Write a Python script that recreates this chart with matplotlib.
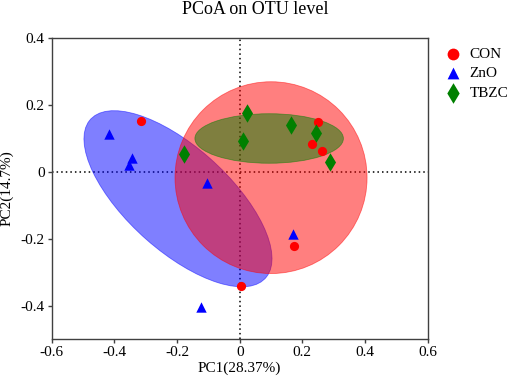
import matplotlib
matplotlib.use('Agg')
from matplotlib import pyplot as plt
from matplotlib.patches import Ellipse

plt.rcParams['font.family'] = 'Liberation Serif'

# PCoA scores
con_x = [-0.314, 0.249, 0.230, 0.264, 0.173, 0.003]
con_y = [0.152, 0.149, 0.083, 0.062, -0.221, -0.341]
zno_x = [-0.416, -0.345, -0.353, -0.105, 0.171, -0.124]
zno_y = [0.112, 0.040, 0.020, -0.033, -0.187, -0.405]
tbzc_x = [0.023, 0.163, 0.244, 0.012, -0.177, 0.288]
tbzc_y = [0.176, 0.138, 0.115, 0.090, 0.052, 0.030]

# group ellipses: centre x, centre y, width, height, angle
ell_con = [0.100, -0.018, 0.613, 0.573, 0.0]
ell_zno = [-0.197, -0.081, 0.733, 0.316, -39.5]
ell_tbzc = [0.094, 0.099, 0.474, 0.148, 0.0]

groups = ['CON', 'ZnO', 'TBZC']
xticks = [-0.6, -0.4, -0.2, 0, 0.2, 0.4, 0.6]
yticks = [-0.4, -0.2, 0, 0.2, 0.4]


def tick_fmt(v):
    return '0' if v == 0 else '{:g}'.format(v)


fig = plt.figure(figsize=(5.1, 3.81), dpi=100)
ax = fig.add_axes([0.1014, 0.1102, 0.7372, 0.7908])

ax.axhline(0, color='black', ls=(0, (1, 2)), lw=1.1, zorder=1)
ax.axvline(0, color='black', ls=(0, (1, 2)), lw=1.1, zorder=1)

for e, col in [(ell_zno, '#0000FF'), (ell_con, '#FF0000'), (ell_tbzc, '#008000')]:
    ax.add_patch(Ellipse((e[0], e[1]), e[2], e[3], angle=e[4],
                         facecolor=col, alpha=0.5, edgecolor=col,
                         lw=0.6, zorder=2))

ax.scatter(con_x, con_y, s=44, marker='o', color='#FF0000',
           linewidths=0, zorder=4, label=groups[0])
ax.scatter(zno_x, zno_y, s=56, marker='^', color='#0000FF',
           linewidths=0, zorder=4, label=groups[1])
ax.scatter(tbzc_x, tbzc_y, s=88, marker='d', color='#008000',
           linewidths=0, zorder=4, label=groups[2])

ax.set_xlim(-0.6, 0.6)
ax.set_ylim(-0.5, 0.4)
ax.set_xticks(xticks)
ax.set_xticklabels([tick_fmt(v) for v in xticks])
ax.set_yticks(yticks)
ax.set_yticklabels([tick_fmt(v) for v in yticks])
ax.tick_params(direction='out', length=3, width=1, color='#404040',
               labelsize=11, pad=2)
for sp in ax.spines.values():
    sp.set_color('#404040')
    sp.set_linewidth(1.0)

ax.set_xlabel('PC1(28.37%)', fontsize=11, labelpad=2)
ax.set_ylabel('PC2(14.7%)', fontsize=11, labelpad=5)
fig.text(0.5, 0.974, 'PCoA on OTU level', ha='center', va='center',
         fontsize=13)

leg = ax.legend(loc='upper left', bbox_to_anchor=(0.858, 0.893),
                bbox_transform=fig.transFigure, frameon=False, fontsize=11,
                handletextpad=0.5, labelspacing=0.38,
                borderaxespad=0, handlelength=1.2)
for h, s in zip(leg.legend_handles, [72, 72, 110]):
    h.set_sizes([s])

fig.savefig('out.png', dpi=100)
